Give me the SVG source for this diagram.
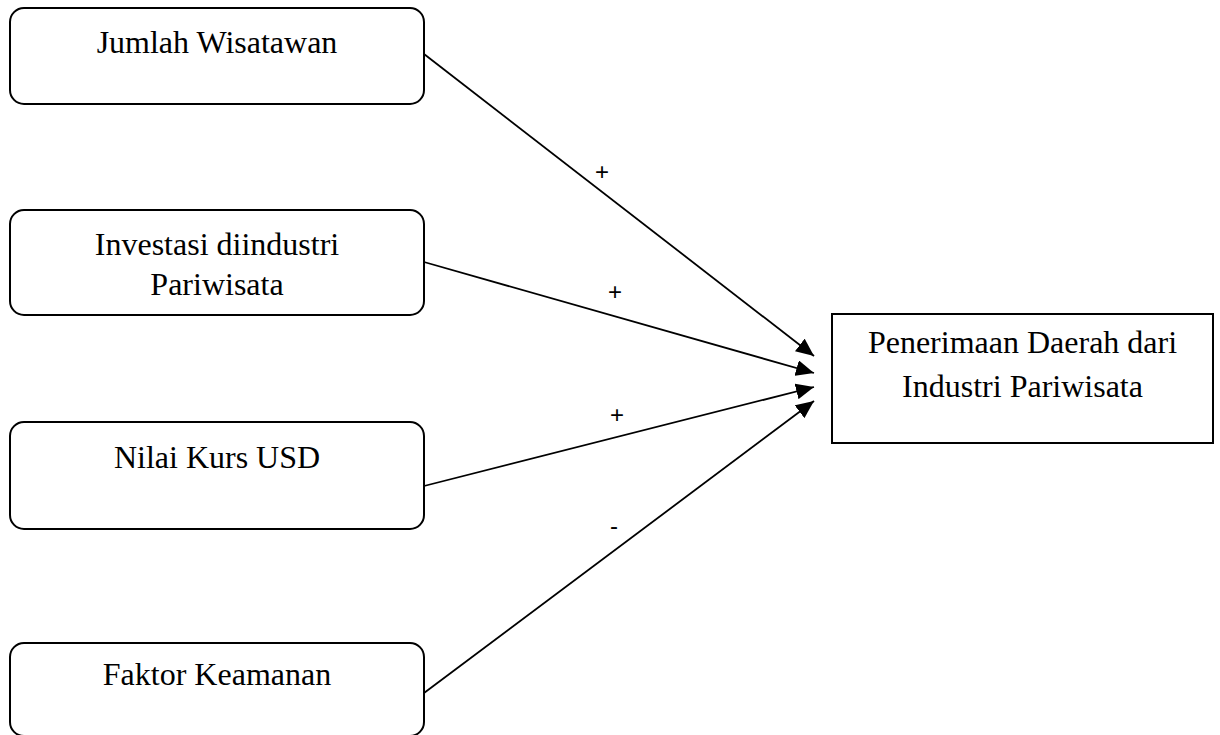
<svg xmlns="http://www.w3.org/2000/svg" width="1220" height="735" viewBox="0 0 1220 735">
  <style>
    .node rect { fill: #ffffff; stroke: #000000; stroke-width: 2; }
    .node text { font-family: "Liberation Serif", "Times New Roman", serif; font-size: 32px; fill: #000000; text-anchor: middle; }
    .conn line { stroke: #000000; stroke-width: 1.8; fill: none; }
    .lbl { font-family: "Liberation Sans", Arial, sans-serif; font-size: 24px; fill: #000000; text-anchor: middle; }
  </style>
  <defs>
    <marker id="arrow" markerUnits="userSpaceOnUse" markerWidth="20" markerHeight="16" refX="18" refY="8" orient="auto">
      <path d="M0,0 L18,8 L0,16 Z" fill="#000000"/>
    </marker>
  </defs>
  <rect width="1220" height="735" fill="#ffffff"/>

  <g class="conn" id="connectors">
    <line x1="424" y1="54" x2="814" y2="356" marker-end="url(#arrow)"/>
    <line x1="424" y1="262" x2="814" y2="373" marker-end="url(#arrow)"/>
    <line x1="424" y1="486" x2="814" y2="387" marker-end="url(#arrow)"/>
    <line x1="424" y1="693" x2="814" y2="401" marker-end="url(#arrow)"/>
    <text class="lbl" x="602" y="180">+</text>
    <text class="lbl" x="615" y="300">+</text>
    <text class="lbl" x="617" y="423">+</text>
    <text class="lbl" x="614" y="534">-</text>
  </g>

  <g class="node" id="jumlah-wisatawan">
    <rect x="10" y="8" width="414" height="96" rx="14" ry="14"/>
    <text x="217" y="53">Jumlah Wisatawan</text>
  </g>
  <g class="node" id="investasi">
    <rect x="10" y="210" width="414" height="105" rx="14" ry="14"/>
    <text x="217" y="255">Investasi diindustri</text>
    <text x="217" y="295">Pariwisata</text>
  </g>
  <g class="node" id="nilai-kurs">
    <rect x="10" y="422" width="414" height="107" rx="14" ry="14"/>
    <text x="217" y="468">Nilai Kurs USD</text>
  </g>
  <g class="node" id="faktor-keamanan">
    <rect x="10" y="643" width="414" height="93" rx="14" ry="14"/>
    <text x="217" y="685">Faktor Keamanan</text>
  </g>
  <g class="node" id="penerimaan">
    <rect x="832" y="314" width="381" height="129"/>
    <text x="1022.5" y="353">Penerimaan Daerah dari</text>
    <text x="1022.5" y="397">Industri Pariwisata</text>
  </g>
</svg>
